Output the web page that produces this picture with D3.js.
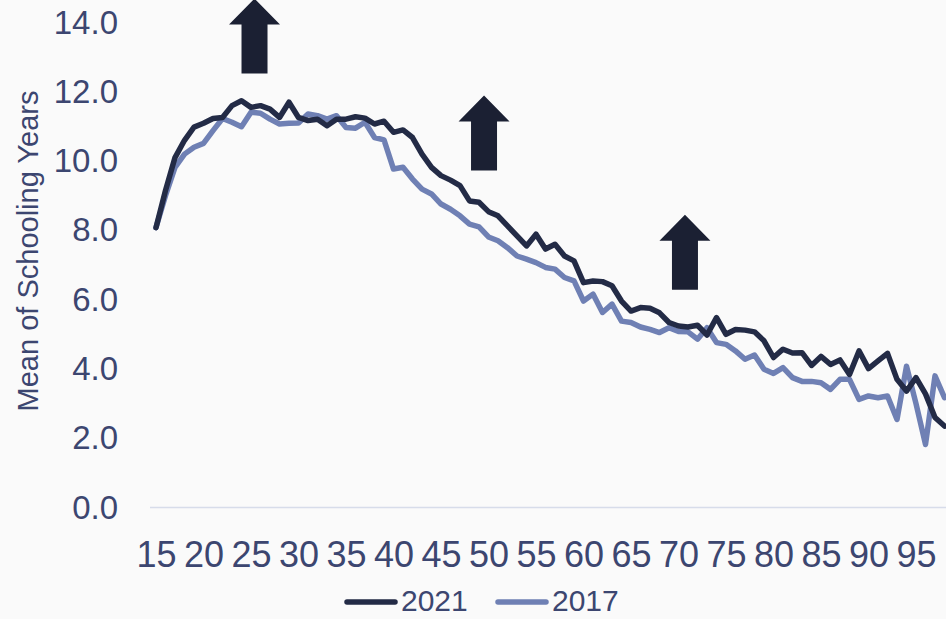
<!DOCTYPE html>
<html>
<head>
<meta charset="utf-8">
<script src="https://cdn.jsdelivr.net/npm/d3@7"></script>
<style>
  html, body { margin: 0; padding: 0; background: #fafafa; }
  svg { display: block; font-family: "Liberation Sans", Arial, sans-serif; }
</style>
</head>
<body>
<svg id="chart" width="946" height="619"></svg>
<script>
// ---- data ----
const ages = d3.range(15, 99); // 15..98
const series2021 = [
  8.08, 9.15, 10.1, 10.6, 10.98, 11.09, 11.23, 11.26, 11.6, 11.74,
  11.55, 11.6, 11.5, 11.26, 11.7, 11.26, 11.17, 11.21, 11.02, 11.21,
  11.21, 11.28, 11.24, 11.07, 11.15, 10.83, 10.9, 10.68, 10.2, 9.82,
  9.58, 9.45, 9.29, 8.85, 8.81, 8.54, 8.42, 8.13, 7.84, 7.55,
  7.89, 7.46, 7.6, 7.26, 7.12, 6.49, 6.54, 6.52, 6.4, 5.96,
  5.67, 5.77, 5.75, 5.62, 5.34, 5.24, 5.21, 5.26, 4.98, 5.48,
  5.0, 5.14, 5.12, 5.07, 4.81, 4.33, 4.57, 4.46, 4.47, 4.1,
  4.36, 4.13, 4.26, 3.84, 4.52, 4.01, 4.23, 4.45, 3.7, 3.36,
  3.75, 3.28, 2.6, 2.35
];
const series2017 = [
  8.08, 9.0, 9.82, 10.2, 10.4, 10.51, 10.88, 11.23, 11.12, 10.99,
  11.41, 11.38, 11.21, 11.07, 11.09, 11.1, 11.36, 11.31, 11.21, 11.31,
  10.97, 10.95, 11.12, 10.68, 10.61, 9.77, 9.82, 9.48, 9.19, 9.05,
  8.76, 8.61, 8.42, 8.18, 8.1, 7.81, 7.7, 7.5, 7.26, 7.17,
  7.07, 6.93, 6.88, 6.64, 6.54, 5.96, 6.16, 5.63, 5.87, 5.38,
  5.34, 5.21, 5.14, 5.05, 5.19, 5.08, 5.07, 4.86, 5.19, 4.76,
  4.71, 4.52, 4.28, 4.4, 3.99, 3.87, 4.04, 3.75, 3.64, 3.64,
  3.6, 3.41, 3.7, 3.7, 3.12, 3.22, 3.17, 3.22, 2.54, 4.08,
  3.0, 1.82, 3.8, 3.17
];
const yTicks = [0, 2, 4, 6, 8, 10, 12, 14];
const xTicks = d3.range(15, 96, 5);
const yTitle = "Mean of Schooling Years";
const legendLabels = ["2021", "2017"];
// annotation arrows: [age, tip value]
const arrowAges = [25.37, 49.53, 70.68];
const arrowTips = [14.69, 11.89, 8.45];

// ---- styles ----
const textColor = "#3c4670";
const color2021 = "#232b46";
const color2017 = "#6f80b4";
const arrowColor = "#1b2033";

const svg = d3.select("#chart");
const x = d3.scaleLinear().domain([15, 100]).range([156, 963.5]);
const y = d3.scaleLinear().domain([0, 14]).range([507.5, 22.5]);

// baseline gridline at 0
svg.append("line")
  .attr("x1", 150).attr("x2", 946)
  .attr("y1", y(0)).attr("y2", y(0))
  .attr("stroke", "#d7dcea").attr("stroke-width", 1.5);

// y axis
const yAxis = d3.axisLeft(y).tickValues(yTicks).tickFormat(d3.format(".1f")).tickSize(0).tickPadding(0);
const gy = svg.append("g").attr("transform", "translate(118,0)").call(yAxis);
gy.select(".domain").remove();
gy.selectAll("text").attr("fill", textColor).style("font-size", "33px")
  .attr("font-family", "'Liberation Sans', Arial, sans-serif");

// x axis
const xAxis = d3.axisBottom(x).tickValues(xTicks).tickFormat(d3.format("d")).tickSize(0).tickPadding(0);
const gx = svg.append("g").attr("transform", "translate(0,0)").call(xAxis);
gx.select(".domain").remove();
gx.selectAll("text").attr("fill", textColor).style("font-size", "36px")
  .attr("font-family", "'Liberation Sans', Arial, sans-serif")
  .attr("dy", null).attr("y", 567);

// y title
svg.append("text")
  .attr("transform", "translate(38,251) rotate(-90)")
  .attr("text-anchor", "middle")
  .attr("fill", textColor)
  .style("font-size", "29px")
  .text(yTitle);

// lines
const line = d3.line().x((d, i) => x(ages[i])).y(d => y(d));
svg.append("path").datum(series2017)
  .attr("fill", "none").attr("stroke", color2017).attr("stroke-width", 5.5)
  .attr("stroke-linejoin", "round").attr("stroke-linecap", "round")
  .attr("d", line);
svg.append("path").datum(series2021)
  .attr("fill", "none").attr("stroke", color2021).attr("stroke-width", 5.5)
  .attr("stroke-linejoin", "round").attr("stroke-linecap", "round")
  .attr("d", line);

// arrows
const aw = 51, ah = 75, hh = 26, sw = 26;
arrowAges.forEach((a, i) => {
  const cx = x(a), ty = y(arrowTips[i]);
  const pts = [
    [cx, ty], [cx + aw / 2, ty + hh], [cx + sw / 2, ty + hh], [cx + sw / 2, ty + ah],
    [cx - sw / 2, ty + ah], [cx - sw / 2, ty + hh], [cx - aw / 2, ty + hh]
  ];
  svg.append("path")
    .attr("d", "M" + pts.map(p => p.join(",")).join("L") + "Z")
    .attr("fill", arrowColor);
});

// legend
const legendX = [347, 498];
const legendColors = [color2021, color2017];
legendLabels.forEach((lab, i) => {
  svg.append("line")
    .attr("x1", legendX[i]).attr("x2", legendX[i] + 48)
    .attr("y1", 602).attr("y2", 602)
    .attr("stroke", legendColors[i]).attr("stroke-width", 5.5)
    .attr("stroke-linecap", "round");
  svg.append("text")
    .attr("x", legendX[i] + 54).attr("y", 611)
    .attr("fill", textColor)
    .style("font-size", "30px")
    .text(lab);
});
</script>
</body>
</html>
